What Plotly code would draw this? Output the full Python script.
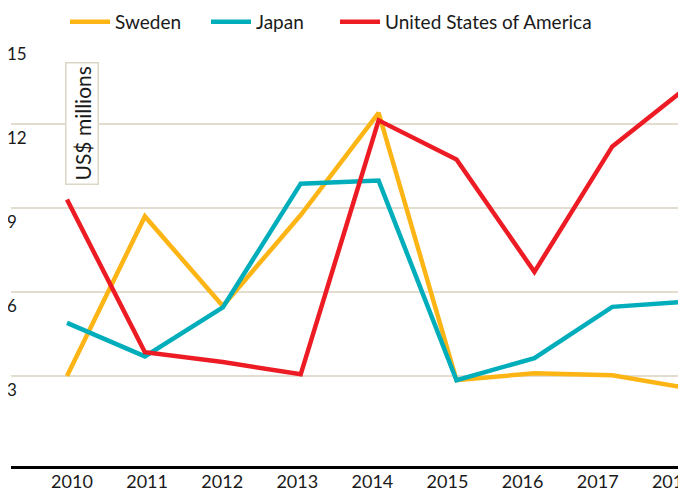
import plotly.graph_objects as go

years = [2010, 2011, 2012, 2013, 2014, 2015, 2016, 2017, 2018]
sweden = [3.0, 8.7, 5.5, 8.75, 12.4, 2.85, 3.1, 3.03, 2.55]
japan = [4.9, 3.7, 5.45, 9.87, 9.98, 2.85, 3.64, 5.47, 5.66]
usa = [9.3, 3.85, 3.5, 3.06, 12.13, 10.73, 6.72, 11.2, 13.4]
series_names = ["Sweden", "Japan", "United States of America"]
colors = ["#FDB515", "#00AEBB", "#ED1C24"]
y_ticks = [3, 6, 9, 12, 15]

# the page body adds an 8px offset; the figure is sized to fill the rest
W, H, OFF = 678, 483, 8
legend_ids = ["legend", "legend2", "legend3"]
legend_left = [70, 211, 340]  # page px where each legend entry starts

fig = go.Figure()
for name, vals, col, lg in zip(series_names, [sweden, japan, usa], colors, legend_ids):
    fig.add_trace(go.Scatter(x=years, y=vals, name=name, mode="lines",
                             line=dict(color=col, width=4.5), hoverinfo="skip",
                             legend=lg))
# carrier trace for the label axis
fig.add_trace(go.Scatter(x=years, y=[None] * len(years), xaxis="x2",
                         showlegend=False, hoverinfo="skip"))

font = "Lato, 'Open Sans', sans-serif"
legend_style = dict(orientation="h", xanchor="left", xref="container",
                    yanchor="middle", yref="container", y=1 - (22 - OFF) / H,
                    font=dict(size=19, color="#1a1a1a"), itemwidth=40,
                    bgcolor="rgba(0,0,0,0)", borderwidth=0)
legends = {}
for lg, lx in zip(legend_ids, legend_left):
    legends[lg] = dict(legend_style, x=(lx - OFF - 5) / W)

fig.update_layout(
    width=W, height=H,
    margin=dict(l=11 - OFF, r=0, t=40 - OFF, b=H - (466 - OFF), autoexpand=False),
    paper_bgcolor="white", plot_bgcolor="white",
    font=dict(family=font, color="#1a1a1a", size=15),
    showlegend=True,
    xaxis=dict(range=[2009.281, 2017.946], showgrid=False, zeroline=False,
               showticklabels=False, showline=True, linecolor="black",
               linewidth=3, ticks=""),
    xaxis2=dict(range=[2009.188, 2018.176], overlaying="x", anchor="y",
                side="bottom", tickvals=years, ticktext=[str(y) for y in years],
                showgrid=False, zeroline=False, showline=False, ticks="",
                ticklabeloverflow="allow", ticklabelstandoff=3,
                tickfont=dict(size=18, color="#1a1a1a")),
    yaxis=dict(range=[-0.214, 15], tickvals=y_ticks, showgrid=True,
               gridcolor="#E3DDCF", gridwidth=1.5, zeroline=False,
               ticklabelposition="inside", ticklabelshift=14,
               ticklabelstandoff=-7,
               tickfont=dict(size=17, color="#1a1a1a"), showline=False),
    **legends,
)
fig.add_annotation(text="US$ millions", textangle=-90, xref="paper", yref="y",
                   x=(82 - 11) / 675, y=12, xanchor="center", yanchor="middle",
                   showarrow=False,
                   font=dict(size=21, color="#1a1a1a"),
                   bgcolor="white", bordercolor="#DCD6C6", borderwidth=1.5,
                   borderpad=3)
fig.write_html("out.html")
